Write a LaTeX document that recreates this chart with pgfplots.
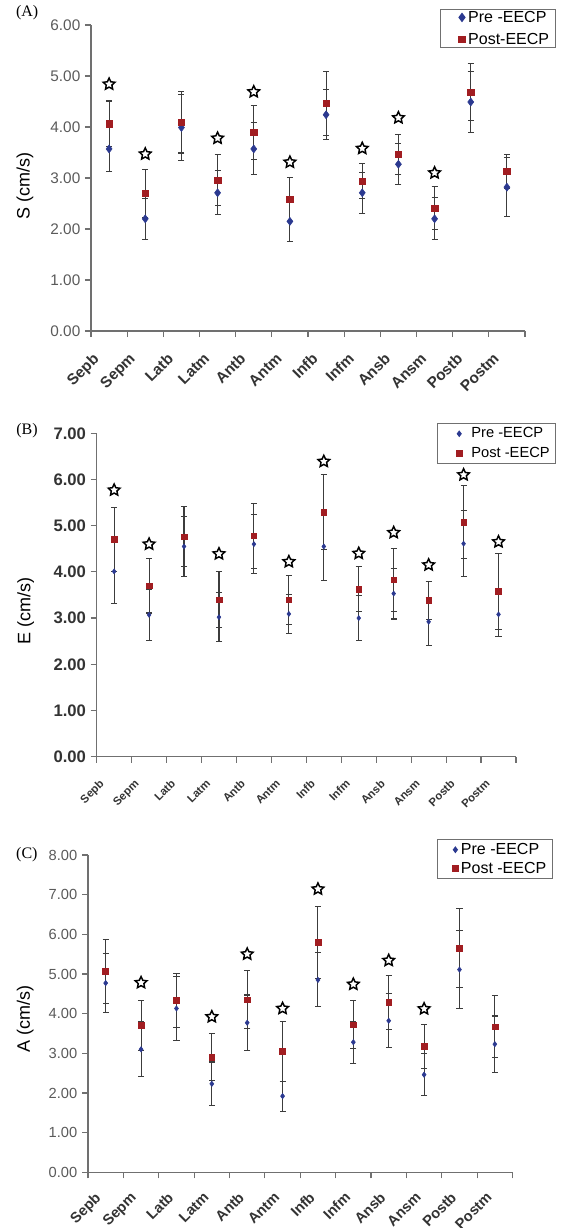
\documentclass[border=0pt]{standalone}
\usepackage{graphicx}
\usepackage{pgfplots}
\pgfplotsset{compat=1.18}
\usepackage{pgfplotstable}
\usepackage{fontspec}
\setmainfont{Liberation Sans}
\newfontfamily\seriffont{Liberation Serif}

\definecolor{preblue}{HTML}{2B3990}
\definecolor{postred}{HTML}{A11D21}
\definecolor{errgray}{HTML}{3C3C3C}
\definecolor{axgray}{HTML}{707070}
\definecolor{labgray}{HTML}{5A5A5A}
\definecolor{darklab}{HTML}{333333}

% open five-point star, size = outer radius
\pgfdeclareplotmark{ostar}{%
  \pgfpathmoveto{\pgfpointpolar{90}{\pgfplotmarksize}}%
  \pgfpathlineto{\pgfpointpolar{126}{0.48\pgfplotmarksize}}%
  \pgfpathlineto{\pgfpointpolar{162}{\pgfplotmarksize}}%
  \pgfpathlineto{\pgfpointpolar{198}{0.48\pgfplotmarksize}}%
  \pgfpathlineto{\pgfpointpolar{234}{\pgfplotmarksize}}%
  \pgfpathlineto{\pgfpointpolar{270}{0.48\pgfplotmarksize}}%
  \pgfpathlineto{\pgfpointpolar{306}{\pgfplotmarksize}}%
  \pgfpathlineto{\pgfpointpolar{342}{0.48\pgfplotmarksize}}%
  \pgfpathlineto{\pgfpointpolar{18}{\pgfplotmarksize}}%
  \pgfpathlineto{\pgfpointpolar{54}{0.48\pgfplotmarksize}}%
  \pgfpathclose
  \pgfusepathqfillstroke}

\newcommand{\rl}[1]{\rotatebox{45}{#1}}

% S wave
\pgfplotstableread{
x pre epre post epost star
1 3.57 0.44 4.06 0.45 4.84
2 2.20 0.40 2.70 0.47 3.47
3 3.99 0.64 4.09 0.60 nan
4 2.71 0.43 2.96 0.50 3.78
5 3.57 0.51 3.90 0.53 4.69
6 2.15 0.40 2.58 0.43 3.31
7 4.24 0.49 4.46 0.62 nan
8 2.71 0.40 2.94 0.34 3.58
9 3.27 0.40 3.46 0.39 4.18
10 2.20 0.41 2.41 0.42 3.10
11 4.49 0.59 4.68 0.56 nan
12 2.82 0.58 3.13 0.33 nan
}\dataA

% E wave
\pgfplotstableread{
x pre epre post epost star
1 4.01 0.70 4.70 0.70 5.77
2 3.07 0.56 3.70 0.59 4.60
3 4.55 0.65 4.76 0.65 nan
4 3.02 0.53 3.40 0.60 4.39
5 4.60 0.64 4.78 0.70 nan
6 3.09 0.43 3.40 0.53 4.22
7 4.55 0.73 5.29 0.81 6.39
8 3.00 0.49 3.63 0.48 4.40
9 3.53 0.55 3.83 0.68 4.85
10 2.92 0.52 3.38 0.42 4.15
11 4.61 0.72 5.08 0.79 6.10
12 3.08 0.47 3.58 0.82 4.65
}\dataB

% A wave
\pgfplotstableread{
x pre epre post epost star
1 4.77 0.75 5.07 0.81 nan
2 3.10 0.69 3.70 0.64 4.78
3 4.13 0.80 4.33 0.67 nan
4 2.23 0.55 2.90 0.59 3.92
5 3.77 0.70 4.35 0.73 5.50
6 1.92 0.38 3.05 0.75 4.13
7 4.85 0.68 5.79 0.91 7.14
8 3.28 0.53 3.72 0.60 4.74
9 3.82 0.68 4.28 0.69 5.34
10 2.46 0.53 3.17 0.56 4.12
11 5.11 0.99 5.65 0.99 nan
12 3.23 0.71 3.67 0.78 nan
}\dataC

\pgfplotsset{
  panel/.style={
    scale only axis, clip=false,
    axis lines=left, axis line style={-, axgray, line width=0.9pt},
    xmin=0.5, xmax=12.5, ymin=0,
    xtick={0.5,1.5,...,12.5}, xticklabels={},
    extra x tick labels={\rl{Sepb},\rl{Sepm},\rl{Latb},\rl{Latm},\rl{Antb},\rl{Antm},
      \rl{Infb},\rl{Infm},\rl{Ansb},\rl{Ansm},\rl{Postb},\rl{Postm}},
    tick align=outside, major tick length=4.5pt,
    tick style={axgray, line width=0.9pt},
    /pgf/number format/assume math mode=true,
    yticklabel style={/pgf/number format/fixed, /pgf/number format/fixed zerofill,
      /pgf/number format/precision=2},
    legend cell align=left,
    legend style={anchor=north west, draw=axgray, line width=0.8pt,
      inner xsep=2.5pt, nodes={inner ysep=0.5pt},
      /tikz/every even column/.append style={column sep=0pt}},
  },
  % legend image: #1 = cell width, #2 = mark position
  legimg/.style 2 args={legend image code/.code={%
    \path (0pt,0pt) (#1,0pt); \draw[##1] plot coordinates {(#2,0pt)};}},
  xlab/.style 2 args={extra x tick style={major tick length=0pt, xticklabel shift=#1,
    xticklabel style={anchor=north east, inner sep=0pt,
      font=\bfseries\fontsize{#2}{#2}\selectfont, text=darklab}}},
  errs/.style={error bars/.cd, y dir=both, y explicit,
    error bar style={errgray, line width=0.8pt},
    error mark options={rotate=90, errgray, line width=0.8pt, mark size=2.3pt}},
  stars/.style={only marks, mark=ostar, mark size=4.6pt,
    mark options={draw=black, fill=white, line width=1.1pt, line join=miter}, forget plot},
}

\begin{document}
\begin{tikzpicture}
\useasboundingbox (0,0) rectangle (420.75pt,-921pt);

% (A)
\begin{axis}[panel,
  at={(68.25pt,-248.25pt)}, anchor=south west,
  width=325.5pt, height=229.5pt, ymax=6, ytick={0,...,6},
  yticklabel style={font=\fontsize{11.5}{13}\selectfont, text=labgray},
  extra x ticks={0.81,1.81,2.81,3.81,4.81,5.81,6.81,7.81,8.81,9.81,10.81,11.81},
  xlab={15.5pt}{11.5},
  ylabel={S (cm/s)},
  every axis y label/.style={at={(axis description cs:-0.152,0.474)}, rotate=90,
    anchor=center, font=\fontsize{13.5}{15}\selectfont},
  legimg={15.5pt}{13.25pt},
  legend style={at={(0.804,1.052)}, inner ysep=0.4pt, row sep=5.8pt,
    font=\fontsize{12}{14}\selectfont},
]
\addplot[only marks, mark=diamond*, mark size=3pt, color=preblue, errs]
  table[x=x, y=pre, y error=epre] {\dataA};
\addplot[only marks, mark=square*, mark size=2.4pt, color=postred, errs]
  table[x=x, y=post, y error=epost] {\dataA};
\addplot[stars] table[x=x, y=star] {\dataA};
\legend{Pre -EECP, Post-EECP}
\node[font=\seriffont\fontsize{12}{14}\selectfont] at (axis description cs:-0.147,1.039) {(A)};
\end{axis}

% (B)
\begin{axis}[panel,
  at={(72.5pt,-567.5pt)}, anchor=south west,
  width=314.5pt, height=242.55pt, ymax=7, ytick={0,...,7},
  yticklabel style={font=\bfseries\fontsize{12.5}{14}\selectfont, text=darklab},
  extra x ticks={0.78,1.78,2.78,3.78,4.78,5.78,6.78,7.78,8.78,9.78,10.78,11.78},
  xlab={16.5pt}{8.5},
  ylabel={E (cm/s)},
  every axis y label/.style={at={(axis description cs:-0.169,0.45)}, rotate=90,
    anchor=center, font=\fontsize{13.5}{15}\selectfont},
  legimg={20pt}{13.25pt},
  legend style={at={(0.812,1.031)}, inner ysep=2.4pt, row sep=4.7pt,
    font=\fontsize{11}{13}\selectfont},
]
\addplot[only marks, mark=diamond*, mark size=1.9pt, color=preblue, errs]
  table[x=x, y=pre, y error=epre] {\dataB};
\addplot[only marks, mark=square*, mark size=2.1pt, color=postred, errs]
  table[x=x, y=post, y error=epost] {\dataB};
\addplot[stars] table[x=x, y=star] {\dataB};
\legend{Pre -EECP, Post -EECP}
\node[font=\seriffont\fontsize{12}{14}\selectfont] at (axis description cs:-0.166,1.007) {(B)};
\end{axis}

% (C)
\begin{axis}[panel,
  at={(66pt,-879.2pt)}, anchor=south west,
  width=318.4pt, height=238pt, ymax=8, ytick={0,...,8},
  yticklabel style={font=\fontsize{11}{13}\selectfont, text=labgray},
  extra x ticks={0.95,1.95,2.95,3.95,4.95,5.95,6.95,7.95,8.95,9.95,10.95,11.95},
  xlab={14pt}{11},
  ylabel={A (cm/s)},
  every axis y label/.style={at={(axis description cs:-0.148,0.483)}, rotate=90,
    anchor=center, font=\fontsize{13.5}{15}\selectfont},
  legimg={11.9pt}{10.5pt},
  legend style={at={(0.822,1.049)}, inner ysep=1.9pt, row sep=3.2pt,
    font=\fontsize{12}{14}\selectfont},
]
\addplot[only marks, mark=diamond*, mark size=2pt, color=preblue, errs]
  table[x=x, y=pre, y error=epre] {\dataC};
\addplot[only marks, mark=square*, mark size=2.2pt, color=postred, errs]
  table[x=x, y=post, y error=epost] {\dataC};
\addplot[stars] table[x=x, y=star] {\dataC};
\legend{Pre -EECP, Post -EECP}
\node[font=\seriffont\fontsize{12}{14}\selectfont] at (axis description cs:-0.144,1.0) {(C)};
\end{axis}
\end{tikzpicture}
\end{document}
